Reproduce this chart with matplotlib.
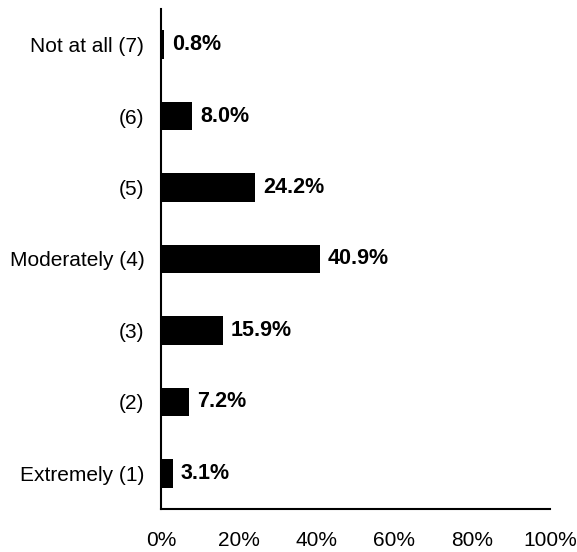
import matplotlib.pyplot as plt

plt.rcParams['font.family'] = ['Liberation Sans', 'DejaVu Sans']

# Svarkategorier, nederst til øverst
categories = ['Extremely (1)', '(2)', '(3)', 'Moderately (4)', '(5)', '(6)', 'Not at all (7)']
percent = [3.1, 7.2, 15.9, 40.9, 24.2, 8.0, 0.8]
xticks = [0, 20, 40, 60, 80, 100]

fig = plt.figure(figsize=(5.77, 5.52), dpi=100)
ax = fig.add_axes([161 / 577, 1 - 509 / 552, 389 / 577, 500 / 552])

ax.barh(range(len(categories)), percent, height=0.4, color='black')

# Prosentverdi rett til høyre for hver stolpe
for i, v in enumerate(percent):
    ax.text(v + 2, i, f'{v:.1f}%', va='center', ha='left',
            fontsize=15.5, fontweight='bold')

ax.set_xlim(0, 100)
ax.set_ylim(-0.5, len(categories) - 0.5)
ax.set_yticks(range(len(categories)))
ax.set_yticklabels(categories, fontsize=15)
ax.set_xticks(xticks)
ax.set_xticklabels([f'{t}%' for t in xticks], fontsize=15)
ax.tick_params(length=0)
ax.tick_params(axis='x', pad=16)
ax.tick_params(axis='y', pad=12)

ax.spines['top'].set_visible(False)
ax.spines['right'].set_visible(False)
ax.spines['left'].set_linewidth(1.5)
ax.spines['bottom'].set_linewidth(1.5)

fig.savefig('out.png', dpi=100)
